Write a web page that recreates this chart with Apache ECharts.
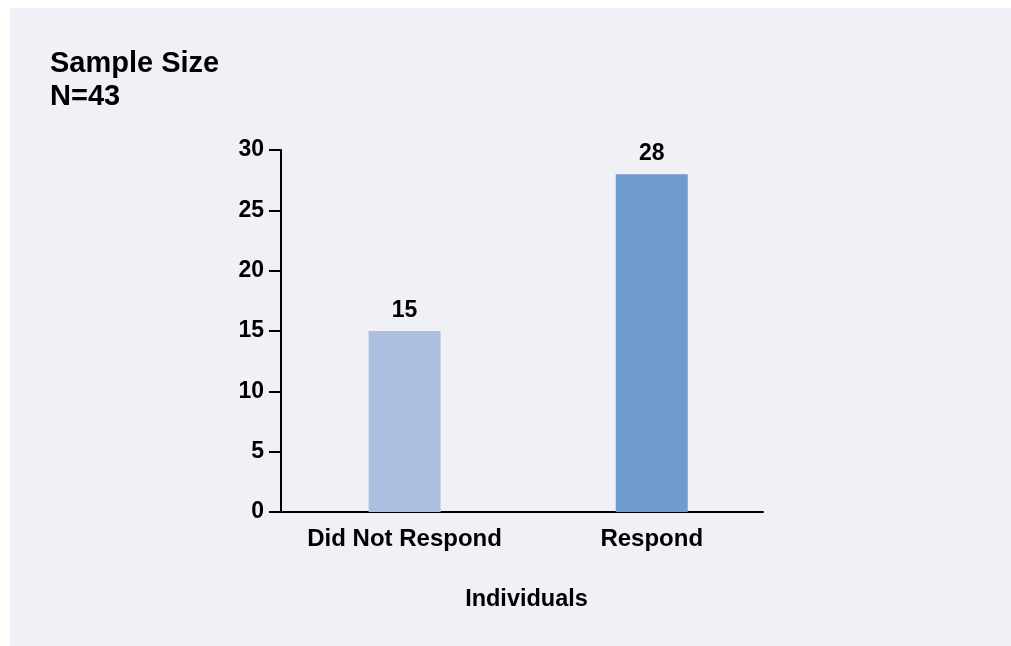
<!DOCTYPE html>
<html>
<head>
<meta charset="utf-8">
<script src="https://cdn.jsdelivr.net/npm/echarts@6/dist/echarts.min.js"></script>
<style>
  html, body { margin: 0; padding: 0; background: #ffffff; }
  #panel { position: absolute; left: 10px; top: 8px; width: 1001px; height: 638px; background: #f0f1f6; }
  #chart { width: 1001px; height: 638px; }
</style>
</head>
<body>
<div id="panel"><div id="chart"></div></div>
<script>
// Response counts by group
const categories = ['Did Not Respond', 'Respond'];
const counts = [15, 28];
const barColors = ['#adbfe0', '#709bcf'];
const yTicks = [0, 5, 10, 15, 20, 25, 30];
const sampleSize = 43;

const FONT = '"Liberation Sans", Arial, sans-serif';

const chart = echarts.init(document.getElementById('chart'), null, { renderer: 'canvas' });

chart.setOption({
  backgroundColor: 'transparent',
  animation: false,
  title: {
    text: 'Sample Size\nN=' + sampleSize,
    left: 35,
    top: 34,
    textStyle: { fontFamily: FONT, fontWeight: 'bold', fontSize: 29, lineHeight: 33, color: '#000' }
  },
  grid: { left: 271, top: 142, width: 482, height: 362, containLabel: false },
  xAxis: {
    type: 'value',
    min: 0.5,
    max: 2.45,
    interval: 0.5,
    name: 'Individuals',
    nameLocation: 'middle',
    nameGap: 76,
    nameTextStyle: { fontFamily: FONT, fontWeight: 'bold', fontSize: 23.5, color: '#000', padding: [0, 0, 0, 9] },
    axisLine: { show: true, lineStyle: { color: '#000', width: 2 } },
    axisTick: { show: false },
    splitLine: { show: false },
    axisLabel: {
      customValues: categories.map((c, i) => i + 1),
      formatter: v => categories[Math.round(v) - 1] || '',
      margin: 15,
      fontFamily: FONT, fontWeight: 'bold', fontSize: 24, color: '#000'
    }
  },
  yAxis: {
    type: 'value',
    min: yTicks[0],
    max: yTicks[yTicks.length - 1],
    interval: yTicks[1] - yTicks[0],
    axisLine: { show: true, lineStyle: { color: '#000', width: 2 } },
    axisTick: { show: true, inside: false, length: 12, lineStyle: { color: '#000', width: 2 } },
    splitLine: { show: false },
    axisLabel: { margin: 17, fontFamily: FONT, fontWeight: 'bold', fontSize: 23, color: '#000' }
  },
  series: [{
    type: 'bar',
    barWidth: 72,
    data: counts.map((v, i) => ({ value: [i + 1, v], itemStyle: { color: barColors[i] } })),
    label: {
      show: true,
      position: 'top',
      distance: 9,
      formatter: p => p.value[1],
      fontFamily: FONT, fontWeight: 'bold', fontSize: 23, color: '#000'
    }
  }]
});
</script>
</body>
</html>
